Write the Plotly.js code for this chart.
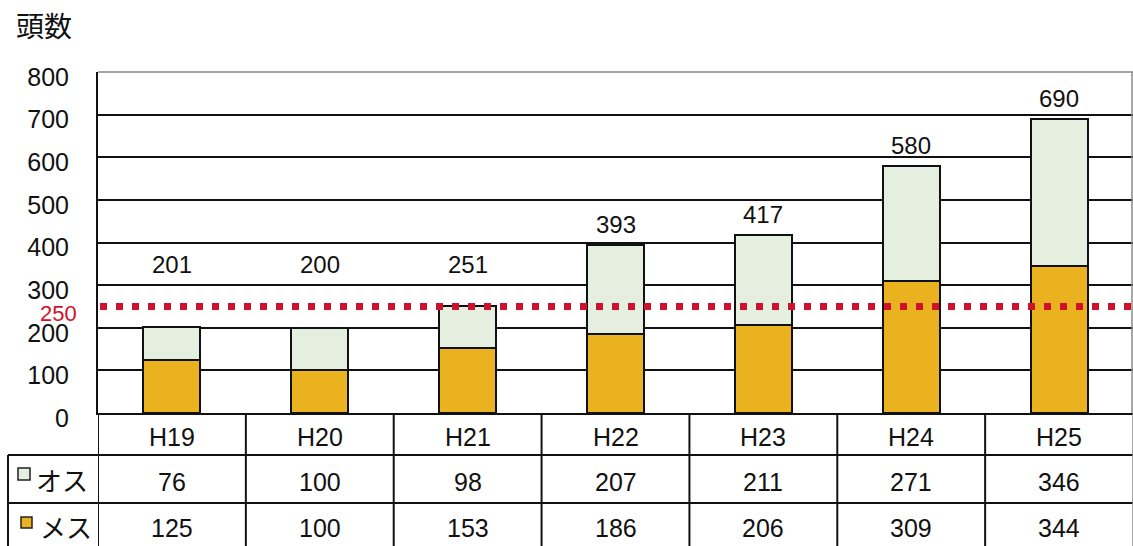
<!DOCTYPE html>
<html>
<head>
<meta charset="utf-8">
<script src="https://cdn.plot.ly/plotly-3.0.1.min.js"></script>
<style>html,body{margin:0;padding:0;background:#fff;}#chart{width:1133px;height:546px;}</style>
</head>
<body>
<div id="chart"></div>
<script>
// ---- data ----
const categories = ['H19','H20','H21','H22','H23','H24','H25'];
const osu  = [76, 100, 98, 207, 211, 271, 346];   // オス
const mesu = [125, 100, 153, 186, 206, 309, 344]; // メス
const seriesNames = ['オス','メス'];
const threshold = 250;
const yTicks = [0,100,200,300,400,500,600,700,800];

// ---- geometry helpers (layout only) ----
const W = 1133, H = 546;
const L = 98, R = 0, T = 72, B = 133;
const PW = W - L - R, PH = H - T - B;
const px = x => (x - L) / PW;          // pixel x -> paper x
const py = y => (H - B - y) / PH;      // pixel y -> paper y

const numFont = 'Liberation Sans, Arial, sans-serif';
const jpFont = 'Noto Sans CJK JP, sans-serif';
const orange = '#E9B21E';
const green = '#E5EFDF';
const red = '#D0112B';

const totals = categories.map((c, i) => osu[i] + mesu[i]);

const traces = [
  {type:'bar', name: seriesNames[1], x: categories, y: mesu,
   marker:{color: orange, line:{color:'#111', width:2}}, hoverinfo:'skip'},
  {type:'bar', name: seriesNames[0], x: categories, y: osu,
   marker:{color: green, line:{color:'#111', width:2}}, hoverinfo:'skip'}
];

const annotations = [];
// totals above bars
totals.forEach((t, i) => {
  annotations.push({x: categories[i], y: Math.max(t, 300), xref:'x', yref:'y',
    text: String(t), showarrow:false, xanchor:'center', yanchor:'bottom', yshift:5,
    font:{family:numFont, size:24, color:'#111'}});
});
// threshold label
annotations.push({x: px(79), xref:'paper', y: threshold, yref:'y', yshift:-7,
  xanchor:'right', yanchor:'middle', text: String(threshold), showarrow:false,
  font:{family:numFont, size:22, color:red}});
// table rows
const cell = (x, y, text) => ({x, xref:'x', y, yref:'paper', text, showarrow:false,
  xanchor:'center', yanchor:'middle', font:{family:numFont, size:25, color:'#111'}});
categories.forEach((c, i) => {
  annotations.push(cell(c, py(437), c));
  annotations.push(cell(c, py(482), String(osu[i])));
  annotations.push(cell(c, py(528), String(mesu[i])));
});
// row labels
annotations.push({x: px(34), xref:'paper', y: py(479), yref:'paper', xanchor:'left', yanchor:'middle',
  text: seriesNames[0], showarrow:false, font:{family:jpFont, size:26, color:'#111'}});
annotations.push({x: px(38), xref:'paper', y: py(526), yref:'paper', xanchor:'left', yanchor:'middle',
  text: seriesNames[1], showarrow:false, font:{family:jpFont, size:26, color:'#111'}});

const shapes = [];
const blk = {color:'#111', width:2};
// plot top / right borders (grey)
shapes.push({type:'line', xref:'paper', yref:'paper', x0:0, x1:1, y0:1, y1:1, line:{color:'#8a8a8a', width:1.5}});
shapes.push({type:'line', xref:'paper', yref:'paper', x0:px(1132), x1:px(1132), y0:0, y1:1, line:{color:'#8a8a8a', width:1.5}});
// threshold dotted line
shapes.push({type:'line', xref:'paper', yref:'y', x0:px(100), x1:1, y0:threshold, y1:threshold,
  layer:'above', line:{color:red, width:7, dash:'7px,9px'}});
// table horizontal lines
shapes.push({type:'line', xref:'paper', yref:'paper', x0:px(8), x1:1, y0:py(455), y1:py(455), line:blk});
shapes.push({type:'line', xref:'paper', yref:'paper', x0:px(8), x1:1, y0:py(503), y1:py(503), line:blk});
// table left border
shapes.push({type:'line', xref:'paper', yref:'paper', x0:px(8), x1:px(8), y0:py(455), y1:py(546), line:blk});
// table vertical dividers at category boundaries
for (let k = 0; k <= categories.length; k++) {
  shapes.push({type:'line', xref:'x', yref:'paper', x0:k-0.5, x1:k-0.5, y0:py(413), y1:py(546),
    line: k === categories.length ? {color:'#8a8a8a', width:1.5} : blk});
}
// legend squares
shapes.push({type:'rect', xref:'paper', yref:'paper', x0:px(18), x1:px(30), y0:py(468), y1:py(480),
  fillcolor: green, line:{color:'#222', width:1.5}});
shapes.push({type:'rect', xref:'paper', yref:'paper', x0:px(21), x1:px(32), y0:py(517), y1:py(528),
  fillcolor: orange, line:{color:'#222', width:1.5}});

const layout = {
  width: W, height: H,
  margin: {l:L, r:R, t:T, b:B, pad:0},
  paper_bgcolor:'#fff', plot_bgcolor:'#fff',
  barmode:'stack', bargap:0.615,
  showlegend:false,
  title:{text:'頭数', x:16/W, xanchor:'left', xref:'container', y:1-27/H, yanchor:'middle', yref:'container',
    font:{family:jpFont, size:28, color:'#111'}},
  xaxis:{type:'category', range:[-0.5, categories.length-0.5], showticklabels:false, ticks:'',
    showgrid:false, showline:true, linecolor:'#111', linewidth:2, zeroline:false, fixedrange:true},
  yaxis:{range:[0,800], tickvals:yTicks, ticktext:yTicks.map(String), ticks:'',
    showgrid:true, gridcolor:'#111', gridwidth:2, zeroline:false,
    showline:true, linecolor:'#111', linewidth:2, ticklabelstandoff:22, ticklabelshift:5,
    tickfont:{family:numFont, size:25, color:'#111'}, fixedrange:true},
  annotations, shapes
};

Plotly.newPlot('chart', traces, layout, {displayModeBar:false, staticPlot:true});
</script>
</body>
</html>
